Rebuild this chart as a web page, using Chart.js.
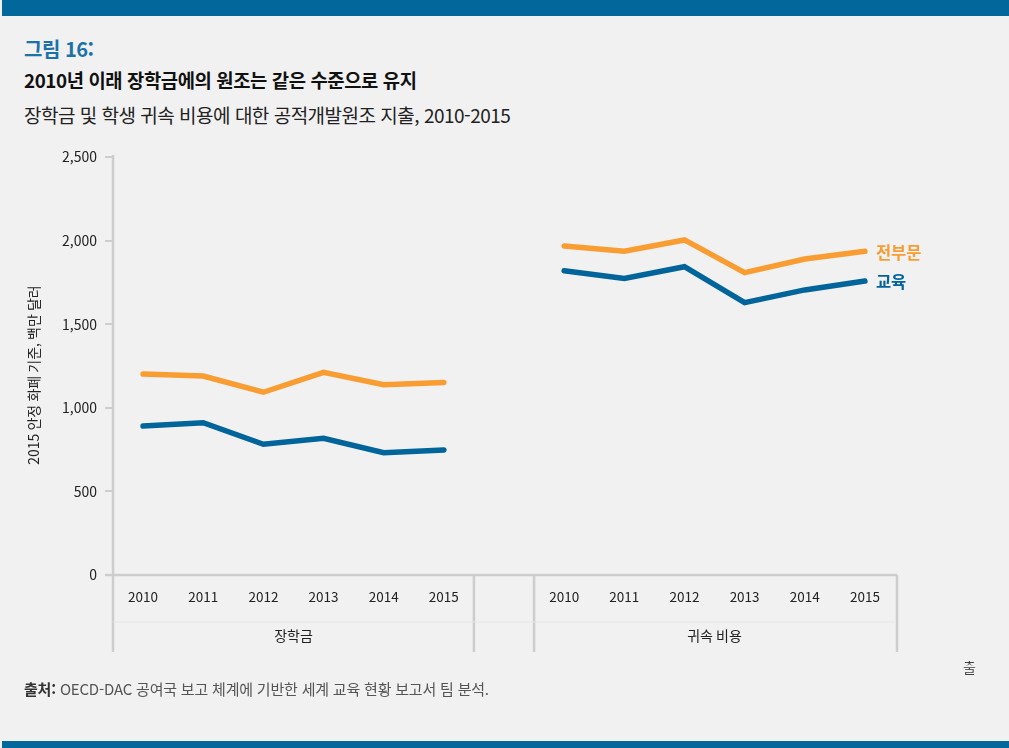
<!DOCTYPE html>
<html lang="ko">
<head>
    <meta charset="UTF-8">
    <title>그림 16</title>
    <style>
        body {
            margin: 0;
            width: 1009px;
            height: 748px;
            overflow: hidden;
            background-color: #f1f1f1;
            font-family: 'Noto Sans CJK KR', sans-serif;
            position: relative;
        }
        .bar-top, .bar-bottom {
            position: absolute;
            left: 2px;
            right: 0;
            background-color: #02679b;
        }
        .bar-top { top: 0; height: 16px; }
        .bar-bottom { bottom: 0; height: 7px; }
        .txt {
            position: absolute;
            left: 24px;
            white-space: nowrap;
            line-height: 1;
        }
        .fig-no { top: 39px; font-size: 20px; font-weight: bold; color: #1b72a8; letter-spacing: -0.5px; }
        .title { top: 71px; font-size: 18.8px; font-weight: bold; color: #111; letter-spacing: -0.4px; }
        .subtitle { top: 105px; font-size: 19px; color: #222; letter-spacing: -0.5px; }
        .source { top: 681px; font-size: 15px; color: #555; letter-spacing: -0.2px; }
        .source b { color: #333; }
        .stray { top: 660px; left: 963px; font-size: 14px; color: #444; }
        #chartBox {
            position: absolute;
            left: 0;
            top: 0;
        }
    </style>
</head>
<body>
    <div class="bar-top"></div>
    <div class="txt fig-no">그림 16:</div>
    <div class="txt title">2010년 이래 장학금에의 원조는 같은 수준으로 유지</div>
    <div class="txt subtitle">장학금 및 학생 귀속 비용에 대한 공적개발원조 지출, 2010-2015</div>
    <div id="chartBox"><canvas id="aidChart" width="1009" height="748"></canvas></div>
    <div class="txt source"><b>출처:</b> OECD-DAC 공여국 보고 체계에 기반한 세계 교육 현황 보고서 팀 분석.</div>
    <div class="txt stray">출</div>
    <div class="bar-bottom"></div>

    <script src="https://cdn.jsdelivr.net/npm/chart.js"></script>
    <script>
        // years shown under each group
        const years = ['2010', '2011', '2012', '2013', '2014', '2015'];
        const groups = ['장학금', '귀속 비용'];
        const seriesNames = ['전부문', '교육'];

        // constant 2015 USD, millions
        const scholarshipAll = [1202, 1190, 1093, 1212, 1138, 1152];
        const scholarshipEdu = [891, 911, 782, 818, 731, 748];
        const imputedAll = [1968, 1936, 2004, 1808, 1890, 1936];
        const imputedEdu = [1820, 1774, 1844, 1629, 1705, 1758];

        const yTicks = [0, 500, 1000, 1500, 2000, 2500];

        const ORANGE = '#f99d33';
        const BLUE = '#01649b';
        const AXIS = '#cdcdcd';

        // one empty slot between the two groups
        const labels = years.concat([''], years);
        const allData = scholarshipAll.concat([null], imputedAll);
        const eduData = scholarshipEdu.concat([null], imputedEdu);

        const font = "'Noto Sans CJK KR', sans-serif";
        Chart.defaults.font.family = font;
        Chart.defaults.color = '#222';

        const framePlugin = {
            id: 'frame',
            beforeDatasetsDraw(chart) {
                const ctx = chart.ctx;
                const x = chart.scales.x;
                const area = chart.chartArea;
                const slot = (x.getPixelForValue(1) - x.getPixelForValue(0));
                const gapLeft = x.getPixelForValue(6) - slot / 2;
                const gapRight = x.getPixelForValue(6) + slot / 2;
                const bottom = area.bottom + 77;

                ctx.save();
                ctx.strokeStyle = AXIS;
                ctx.lineWidth = 2.5;
                ctx.beginPath();
                // y axis, running down through the label rows
                ctx.moveTo(area.left, area.top - 2);
                ctx.lineTo(area.left, bottom);
                // x axis
                ctx.moveTo(area.left - 8, area.bottom);
                ctx.lineTo(area.right + 2, area.bottom);
                // group separators
                [gapLeft, gapRight, area.right + 2].forEach(px => {
                    ctx.moveTo(px, area.bottom);
                    ctx.lineTo(px, bottom);
                });
                ctx.stroke();

                // faint rule between year row and group row
                ctx.strokeStyle = '#e6e6e6';
                ctx.lineWidth = 1;
                ctx.beginPath();
                ctx.moveTo(area.left, area.bottom + 47);
                ctx.lineTo(area.right, area.bottom + 47);
                ctx.stroke();

                // group names
                ctx.fillStyle = '#222';
                ctx.font = '14px ' + font;
                ctx.textAlign = 'center';
                ctx.textBaseline = 'middle';
                ctx.fillText(groups[0], (area.left + gapLeft) / 2, area.bottom + 61);
                ctx.fillText(groups[1], (gapRight + area.right) / 2, area.bottom + 61);

                // rotated unit label
                ctx.save();
                ctx.translate(34, (area.top + area.bottom) / 2 + 9);
                ctx.rotate(-Math.PI / 2);
                ctx.font = '14px ' + font;
                ctx.fillText('2015 안정 화폐 기준, 백만 달러', 0, 0);
                ctx.restore();
                ctx.restore();
            },
            afterDatasetsDraw(chart) {
                const ctx = chart.ctx;
                ctx.save();
                ctx.font = 'bold 16.5px ' + font;
                ctx.textAlign = 'left';
                ctx.textBaseline = 'middle';
                chart.data.datasets.forEach((ds, i) => {
                    const pts = chart.getDatasetMeta(i).data;
                    const last = pts[pts.length - 1];
                    ctx.fillStyle = ds.borderColor;
                    ctx.fillText(ds.label, last.x + 11, last.y + 1);
                });
                ctx.restore();
            }
        };

        new Chart(document.getElementById('aidChart'), {
            type: 'line',
            data: {
                labels: labels,
                datasets: [
                    {
                        label: seriesNames[0],
                        data: allData,
                        borderColor: ORANGE,
                        borderWidth: 5.5,
                        borderCapStyle: 'round',
                        pointRadius: 0,
                        tension: 0,
                        spanGaps: false
                    },
                    {
                        label: seriesNames[1],
                        data: eduData,
                        borderColor: BLUE,
                        borderWidth: 5.5,
                        borderCapStyle: 'round',
                        pointRadius: 0,
                        tension: 0,
                        spanGaps: false
                    }
                ]
            },
            options: {
                responsive: false,
                animation: false,
                layout: {
                    padding: { top: 157, left: 0, right: 114, bottom: 0 }
                },
                plugins: {
                    legend: { display: false },
                    tooltip: { enabled: false }
                },
                scales: {
                    x: {
                        offset: true,
                        grid: { display: false, drawTicks: false },
                        border: { display: false },
                        ticks: {
                            padding: 14,
                            maxRotation: 0,
                            autoSkip: false,
                            color: '#222',
                            font: { size: 13.5 }
                        },
                        afterFit(scale) { scale.height = 173; }
                    },
                    y: {
                        min: 0,
                        max: 2500,
                        afterBuildTicks(scale) {
                            scale.ticks = yTicks.map(v => ({ value: v }));
                        },
                        grid: {
                            drawOnChartArea: false,
                            drawTicks: true,
                            tickLength: 8,
                            color: AXIS,
                            lineWidth: 2
                        },
                        border: { display: false },
                        ticks: {
                            padding: 8,
                            color: '#222',
                            font: { size: 14 },
                            callback: v => v.toLocaleString('en-US')
                        },
                        afterFit(scale) { scale.width = 113; }
                    }
                }
            },
            plugins: [framePlugin]
        });
    </script>
</body>
</html>
